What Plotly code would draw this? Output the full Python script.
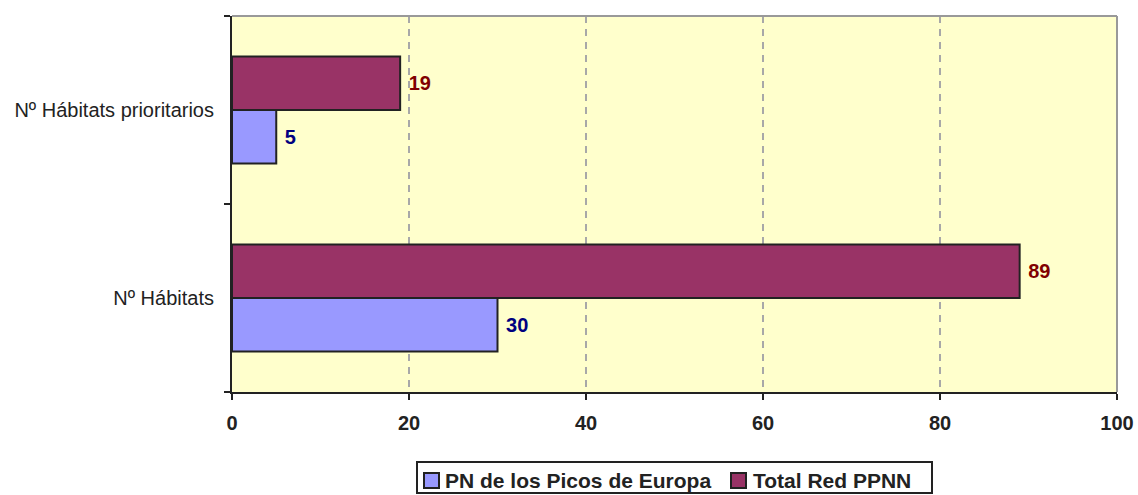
import plotly.graph_objects as go

categories = ["Nº Hábitats", "Nº Hábitats prioritarios"]
pn_picos = [30, 5]
total_red = [89, 19]
series_names = ["PN de los Picos de Europa", "Total Red PPNN"]
series_colors = ["#9999FF", "#993366"]
label_colors = ["#000080", "#800000"]
x_ticks = [0, 20, 40, 60, 80, 100]

W, H = 1138, 495
ML, MR, MT, MB = 232, 21, 16, 103
PW, PH = W - ML - MR, H - MT - MB


def px_x(px):
    return (px - ML) / PW


def px_y(py):
    return (H - MB - py) / PH


FONT = "Arial, Liberation Sans, sans-serif"
EDGE = "#222222"

fig = go.Figure()
for vals, name, col, lcol in zip([pn_picos, total_red], series_names, series_colors, label_colors):
    fig.add_trace(go.Bar(
        y=categories, x=vals, orientation="h", name=name,
        marker=dict(color=col, line=dict(color=EDGE, width=2)),
        texttemplate="\u00a0%{x}", textposition="outside",
        textfont=dict(family=FONT, size=20, color=lcol, weight="bold"),
        cliponaxis=False, showlegend=False,
    ))

shapes = [
    # top and right plot border (gray)
    dict(type="line", xref="paper", yref="paper", x0=0, x1=1, y0=1, y1=1,
         line=dict(color="#999999", width=2)),
    dict(type="line", xref="paper", yref="paper", x0=1, x1=1, y0=0, y1=1,
         line=dict(color="#999999", width=2)),
    # legend box
    dict(type="rect", xref="paper", yref="paper",
         x0=px_x(417), x1=px_x(932), y0=px_y(493), y1=px_y(462),
         line=dict(color=EDGE, width=2), fillcolor="white"),
]
annotations = []
sym_x = [424, 731]
txt_x = [443, 751]
for sx, tx, name, col in zip(sym_x, txt_x, series_names, series_colors):
    shapes.append(dict(type="rect", xref="paper", yref="paper",
                       x0=px_x(sx), x1=px_x(sx + 15), y0=px_y(488), y1=px_y(473),
                       line=dict(color=EDGE, width=2), fillcolor=col))
    annotations.append(dict(xref="paper", yref="paper", x=px_x(tx), y=px_y(480),
                            xanchor="left", yanchor="middle", text=name, showarrow=False,
                            font=dict(family=FONT, size=21, color=EDGE, weight="bold")))

fig.update_layout(
    width=W, height=H,
    margin=dict(l=ML, r=MR, t=MT, b=MB),
    paper_bgcolor="white", plot_bgcolor="#FFFFCC",
    barmode="group", bargap=0.43, bargroupgap=0,
    font=dict(family=FONT, color=EDGE),
    showlegend=False,
    shapes=shapes, annotations=annotations,
)
fig.update_xaxes(range=[0, 100], tickvals=x_ticks, ticks="outside", ticklen=6,
                 tickcolor=EDGE, tickwidth=2, automargin=False,
                 showline=True, linecolor=EDGE, linewidth=2,
                 showgrid=True, gridcolor="#A8A8A8", griddash="7px,6px", gridwidth=2,
                 zeroline=False, ticklabelstandoff=6,
                 tickfont=dict(family=FONT, size=20, weight="bold", color=EDGE))
fig.update_yaxes(ticks="outside", ticklen=6, tickson="boundaries",
                 tickcolor=EDGE, tickwidth=2, automargin=False,
                 showline=True, linecolor=EDGE, linewidth=2,
                 showgrid=False, ticklabelstandoff=12,
                 tickfont=dict(family=FONT, size=20, color=EDGE))

fig.write_html("out.html", config={"displayModeBar": False},
               post_script="document.body.style.margin='0';")
